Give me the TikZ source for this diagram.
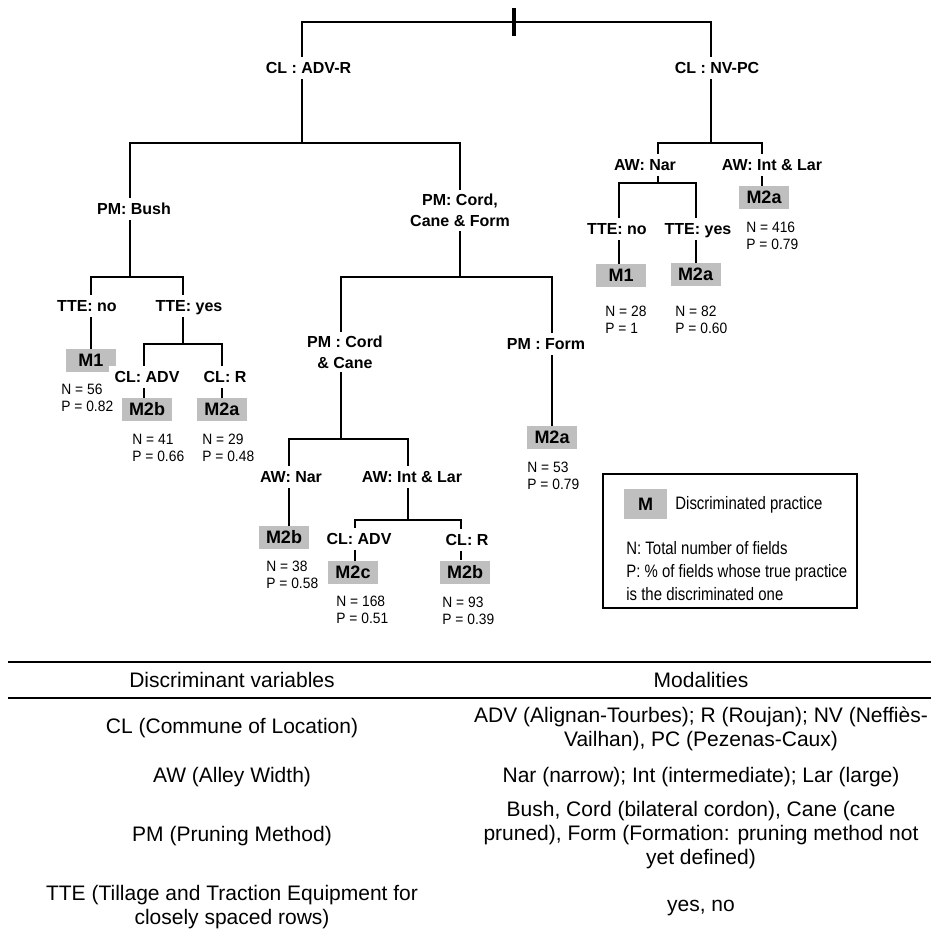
\documentclass[tikz,border=0pt]{standalone}
\usepackage{fontspec}
\setmainfont{Liberation Sans}
\newfontfamily\narrowfont[FakeStretch=0.83]{Liberation Sans}
\newfontfamily\statfont[FakeStretch=0.92]{Liberation Sans}
\begin{document}
\begin{tikzpicture}
    [x=0.5pt, y=-0.5pt,
      every node/.style={inner sep=0pt},
      tree/.style={line width=1.4pt},
      split/.style={fill=white, font=\bfseries\fontsize{8}{10.5}\selectfont,
        text height=6.2pt, text depth=0.9pt, inner xsep=3pt, inner ysep=2pt},
      splittwo/.style={fill=white, font=\bfseries\fontsize{8}{10.5}\selectfont,
        align=center, inner xsep=3pt, inner ysep=2pt},
      leaf/.style={fill=gray!50, font=\bfseries\fontsize{9}{10}\selectfont,
        minimum width=25pt, minimum height=11.5pt},
      stat/.style={anchor=north west, align=left,
        font=\statfont\fontsize{7.5}{8.5}\selectfont},
      keytext/.style={anchor=west, align=left,
        font=\narrowfont\fontsize{9}{11.5}\selectfont},
      cell/.style={align=center, font=\fontsize{10.5}{12}\selectfont},
     ]
    \useasboundingbox (0,0) rectangle (931,936);

    % junctions of the tree
    \coordinate (root) at (514,22);
    \coordinate (a0) at (302,22);      \coordinate (b0) at (711,22);
    \coordinate (advr) at (302,143);   \coordinate (nvpc) at (711,143);
    \coordinate (bush0) at (130,143);  \coordinate (cord0) at (460,143);
    \coordinate (bush) at (130,277);   \coordinate (cord) at (460,277);
    \coordinate (tteno0) at (91,277);  \coordinate (tteyes0) at (183,277);
    \coordinate (tteyes) at (183,344);
    \coordinate (adv0) at (144,344);   \coordinate (r0) at (222,344);
    \coordinate (cc0) at (341,277);    \coordinate (form0) at (552,277);
    \coordinate (cc) at (341,439);
    \coordinate (nar0) at (289,439);   \coordinate (il0) at (408,439);
    \coordinate (il) at (408,520);
    \coordinate (adv1) at (355,520);   \coordinate (r1) at (461,520);
    \coordinate (nar1) at (658,143);   \coordinate (il1) at (762,143);
    \coordinate (nar) at (658,183);
    \coordinate (tteno1) at (619,183); \coordinate (tteyes1) at (696,183);

    % leaves
    \node[leaf] (m1a) at (91,360.5) {M1};
    \node[leaf] (m2ba) at (147,409.5) {M2b};
    \node[leaf] (m2aa) at (222,409.5) {M2a};
    \node[leaf] (m2bb) at (284,537.5) {M2b};
    \node[leaf] (m2c) at (353,572.5) {M2c};
    \node[leaf] (m2bc) at (465,572) {M2b};
    \node[leaf] (m2ab) at (552,437.5) {M2a};
    \node[leaf] (m1b) at (621,275.5) {M1};
    \node[leaf] (m2ac) at (695.5,274.5) {M2a};
    \node[leaf] (m2ad) at (764,197.5) {M2a};

    \draw[tree] (advr) -- (a0) -- (b0) -- (nvpc);
    \draw[tree, line width=1.6pt] ([yshift=7pt]root) -- ([yshift=-7pt]root);
    \draw[tree] (bush) -- (bush0) -- (cord0) -- (cord);
    \draw[tree] (m1a.north) -- (tteno0) -- (tteyes0) -- (tteyes);
    \draw[tree] (adv0 |- m2ba.north) -- (adv0) -- (r0) -- (m2aa.north);
    \draw[tree] (cc) -- (cc0) -- (form0) -- (m2ab.north);
    \draw[tree] (nar0 |- m2bb.north) -- (nar0) -- (il0) -- (il);
    \draw[tree] (adv1 |- m2c.north) -- (adv1) -- (r1) -- (r1 |- m2bc.north);
    \draw[tree] (nar) -- (nar1) -- (il1) -- (il1 |- m2ad.north);
    \draw[tree] (tteno1 |- m1b.north) -- (tteno1) -- (tteyes1) -- (tteyes1 |- m2ac.north);

    % splitting rules, drawn over the lines
    \node[split] (cladvr) at (308.5,68) {CL : ADV-R};
    \node[split] (clnvpc) at (717,68) {CL : NV-PC};
    \node[split] (pmbush) at (134,209) {PM: Bush};
    \node[splittwo] (pmccf) at (460,210.5) {PM: Cord,\\Cane \& Form};
    \node[split] (ttenoa) at (87,306) {TTE: no};
    \node[split] (tteyesa) at (189,306) {TTE: yes};
    \node[split] (cladva) at (147,377) {CL: ADV};
    \node[split] (clra) at (225,377) {CL: R};
    \node[splittwo] (pmcc) at (345,352) {PM : Cord\\\& Cane};
    \node[split] (pmform) at (546,344) {PM : Form};
    \node[split] (awnara) at (291,477) {AW: Nar};
    \node[split] (awila) at (412,477) {AW: Int \& Lar};
    \node[split] (cladvb) at (359,539) {CL: ADV};
    \node[split] (clrb) at (467,540) {CL: R};
    \node[split] (awnarb) at (645,165) {AW: Nar};
    \node[split] (awilb) at (772,165) {AW: Int \& Lar};
    \node[split] (ttenob) at (617,229) {TTE: no};
    \node[split] (tteyesb) at (698,229) {TTE: yes};

    % number of fields and proportion
    \node[stat] (sm1a) at (61,383.6) {N = 56\\P = 0.82};
    \node[stat] (sm2ba) at (132,433.6) {N = 41\\P = 0.66};
    \node[stat] (sm2aa) at (202,433.6) {N = 29\\P = 0.48};
    \node[stat] (sm2bb) at (266,560.6) {N = 38\\P = 0.58};
    \node[stat] (sm2c) at (336,595.6) {N = 168\\P = 0.51};
    \node[stat] (sm2bc) at (442,596.6) {N = 93\\P = 0.39};
    \node[stat] (sm2ab) at (527,461.6) {N = 53\\P = 0.79};
    \node[stat] (sm1b) at (605,305.6) {N = 28\\P = 1};
    \node[stat] (sm2ac) at (675,305.6) {N = 82\\P = 0.60};
    \node[stat] (sm2ad) at (746,221.6) {N = 416\\P = 0.79};

    % key
    \draw[line width=0.6pt] (603,474) rectangle (857,608);
    \node[leaf, minimum width=21.5pt, minimum height=15pt] (key) at (645.5,504) {M};
    \node[keytext] (keym) at (675,505) {Discriminated practice};
    \node[keytext, anchor=north west] (keynp) at (626,541)
      {N: Total number of fields\\P: \% of fields whose true practice\\is the discriminated one};

    % table of variables
    \draw[line width=1pt] (8,662) -- (931,662);
    \draw[line width=1pt] (8,698) -- (931,698);
    \node[cell] (hvar) at (232,680) {Discriminant variables};
    \node[cell] (hmod) at (701,680) {Modalities};
    \node[cell] (vcl) at (232,728) {CL (Commune of Location)};
    \node[cell] (mcl) at (701,728.5) {ADV (Alignan-Tourbes); R (Roujan); NV (Neffiès-\\Vailhan), PC (Pezenas-Caux)};
    \node[cell] (vaw) at (232,777) {AW (Alley Width)};
    \node[cell] (maw) at (701,777) {Nar (narrow); Int (intermediate); Lar (large)};
    \node[cell] (vpm) at (232,836) {PM (Pruning Method)};
    \node[cell] (mpm) at (701,835.5) {Bush, Cord (bilateral cordon), Cane (cane\\pruned), Form (Formation: pruning method not\\yet defined)};
    \node[cell] (vtte) at (232,907.5) {TTE (Tillage and Traction Equipment for\\closely spaced rows)};
    \node[cell] (mtte) at (701,908) {yes, no};
\end{tikzpicture}
\end{document}
